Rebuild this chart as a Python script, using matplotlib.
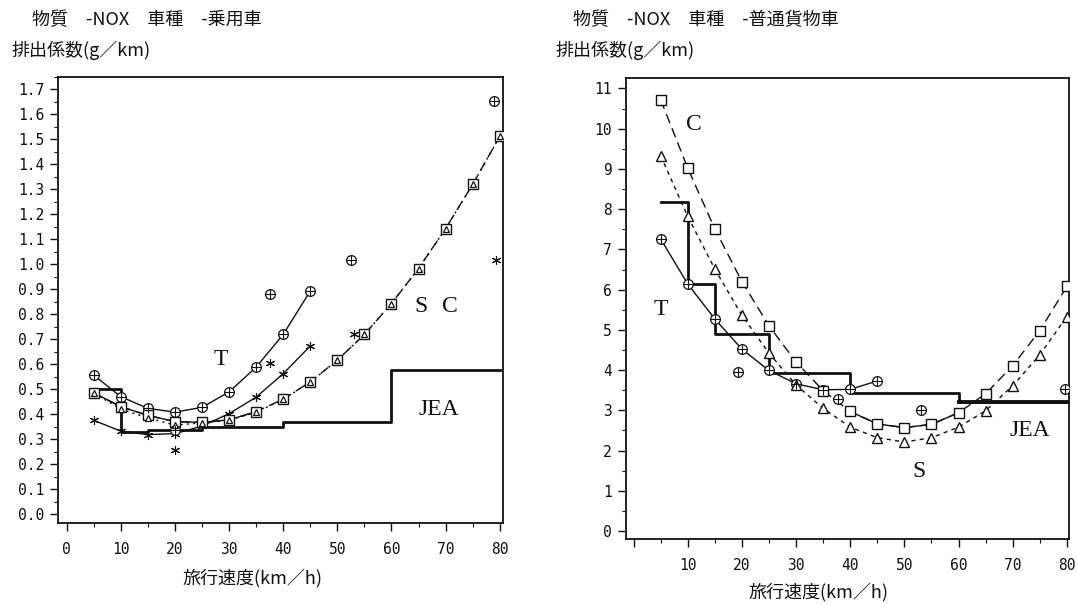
"""
NOx emission factor vs. travel speed: passenger car (left) and truck (right).
"""

import matplotlib
matplotlib.use("Agg")
import matplotlib.pyplot as plt
import matplotlib.ticker as mticker

CJK = ["Noto Sans CJK JP", "DejaVu Sans"]
TICK_FONT = "DejaVu Sans Mono"
LABEL_FONT = "Liberation Serif"
INK = "#111111"

# ---- passenger car (乗用車) ----
car_speed = [5, 10, 15, 20, 25, 30, 35, 40, 45]
car_T = [0.556, 0.470, 0.423, 0.408, 0.427, 0.489, 0.588, 0.719, 0.893]
car_star = [0.375, 0.332, 0.318, 0.322, 0.352, 0.402, 0.468, 0.562, 0.673]
car_speed_sc = [5, 10, 15, 20, 25, 30, 35, 40, 45, 50, 55, 60, 65, 70, 75, 80]
car_C = [0.485, 0.430, 0.395, 0.370, 0.367, 0.377, 0.410, 0.460,
         0.529, 0.616, 0.719, 0.843, 0.983, 1.143, 1.320, 1.512]
car_S = [0.485, 0.420, 0.385, 0.356, 0.365, 0.376, 0.407, 0.459,
         0.529, 0.616, 0.719, 0.843, 0.983, 1.143, 1.320, 1.512]
car_obs_x = [20, 37.5, 52.6, 79.0]
car_obs_y = [0.336, 0.880, 1.016, 1.652]
car_obs_star_x = [20, 37.6, 53.1, 79.4]
car_obs_star_y = [0.258, 0.603, 0.719, 1.016]
car_jea_edges = [5, 10, 15, 25, 40, 60, 80]
car_jea = [0.500, 0.330, 0.338, 0.348, 0.370, 0.575]
car_yticks = [i / 10 for i in range(18)]

# ---- ordinary truck (普通貨物車) ----
truck_speed = [5, 10, 15, 20, 25, 30, 35, 40, 45]
truck_T = [7.26, 6.14, 5.27, 4.52, 3.99, 3.66, 3.51, 3.52, 3.73]
truck_speed_sc = [5, 10, 15, 20, 25, 30, 35, 40, 45, 50, 55, 60, 65, 70, 75, 80]
truck_C = [10.72, 9.02, 7.51, 6.20, 5.10, 4.20, 3.49, 2.97,
           2.66, 2.57, 2.65, 2.94, 3.41, 4.11, 4.98, 6.08]
truck_S = [9.33, 7.82, 6.51, 5.36, 4.42, 3.63, 3.05, 2.58,
           2.32, 2.21, 2.32, 2.58, 2.99, 3.61, 4.38, 5.33]
truck_obs_x = [19.3, 37.8, 53.0, 79.6]
truck_obs_y = [3.96, 3.28, 3.01, 3.52]
truck_jea_edges = [5, 10, 15, 25, 40, 60, 80]
truck_jea = [8.17, 6.13, 4.89, 3.92, 3.44, 3.20]
truck_yticks = list(range(12))

x_ticks = [0, 10, 20, 30, 40, 50, 60, 70, 80]

STAR = (6, 2, 0)


def oplus(ax, x, y, ms=7):
    ax.plot(x, y, "o", ms=ms, mfc="white", mec=INK, mew=0.9, ls="none", zorder=5)
    ax.plot(x, y, "+", ms=ms, color=INK, mew=0.8, ls="none", zorder=6)


def style_axes(ax, xlim, ylim, yminor, yfmt, xlabels):
    ax.set_xlim(*xlim)
    ax.set_ylim(*ylim)
    ax.set_xticks(x_ticks)
    ax.set_xticklabels(xlabels)
    ax.xaxis.set_minor_locator(mticker.MultipleLocator(5))
    ax.yaxis.set_minor_locator(mticker.MultipleLocator(yminor))
    ax.yaxis.set_major_formatter(mticker.FuncFormatter(yfmt))
    ax.tick_params(which="major", direction="out", length=6, width=1.0, color=INK)
    ax.tick_params(which="minor", direction="out", length=3, width=0.8, color=INK)
    ax.tick_params(axis="x", which="major", pad=8)
    ax.tick_params(axis="y", which="major", pad=4)
    ax.tick_params(top=False, right=False, which="both")
    for lab in ax.get_xticklabels() + ax.get_yticklabels():
        lab.set_fontfamily(TICK_FONT)
        lab.set_fontsize(10.5)
        lab.set_color(INK)
    for sp in ax.spines.values():
        sp.set_linewidth(1.3)
        sp.set_color(INK)


def jea_step(ax, edges, vals, lw=2.0):
    ax.plot(edges, vals + [vals[-1]], drawstyle="steps-post", color=INK, lw=lw, zorder=3)


fig = plt.figure(figsize=(10.78, 6.04), dpi=100)
fig.patch.set_facecolor("white")

# ---------------- left panel ----------------
ax1 = fig.add_axes([0.0538, 0.1341, 0.4128, 0.7384])
jea_step(ax1, car_jea_edges, car_jea)
ax1.plot(car_speed, car_T, "-", color=INK, lw=1.0)
oplus(ax1, car_speed, car_T)
ax1.plot(car_speed, car_star, "-", color=INK, lw=1.0,
         marker=STAR, ms=6.5, mew=0.8)
ax1.plot(car_speed_sc, car_C, color=INK, lw=1.0, dashes=(7, 4))
ax1.plot(car_speed_sc, car_S, color=INK, lw=1.0, dashes=(1.5, 3))
ax1.plot(car_speed_sc[:7], car_C[:7], "-", color=INK, lw=1.0)
ax1.plot(car_speed_sc, car_C, "s", ms=7.5, mfc="white", mec=INK, mew=1.0, zorder=5)
ax1.plot(car_speed_sc, car_S, "^", ms=4.5, mfc="white", mec=INK, mew=0.9, zorder=6)
oplus(ax1, car_obs_x, car_obs_y)
ax1.plot(car_obs_star_x, car_obs_star_y, ls="none", color=INK,
         marker=STAR, ms=6.5, mew=0.8)

for txt, x, y in [("T", 28.5, 0.62), ("S", 65.4, 0.83), ("C", 70.7, 0.83), ("JEA", 68.8, 0.42)]:
    ax1.text(x, y, txt, fontsize=17, family=LABEL_FONT, ha="center", va="center",
             color=INK)

style_axes(ax1, (-1.6, 80.6), (-0.036, 1.75), 0.05,
           lambda v, _: f"{v:.1f}", [str(t) for t in x_ticks])
ax1.set_yticks(car_yticks)

# ---------------- right panel ----------------
ax2 = fig.add_axes([0.5807, 0.1076, 0.4110, 0.7632])
jea_step(ax2, truck_jea_edges, truck_jea)
ax2.plot(truck_jea_edges[-2:], [truck_jea[-1]] * 2, color=INK, lw=2.8, zorder=3)
ax2.plot(truck_speed, truck_T, "-", color=INK, lw=1.0)
oplus(ax2, truck_speed, truck_T)
ax2.plot(truck_speed_sc, truck_C, color=INK, lw=1.0, dashes=(7, 4))
ax2.plot(truck_speed_sc[7:12], truck_C[7:12], "-", color=INK, lw=1.0)
ax2.plot(truck_speed_sc, truck_C, "s", ms=7.5, mfc="white", mec=INK, mew=1.0, zorder=5)
ax2.plot(truck_speed_sc, truck_S, color=INK, lw=1.0, dashes=(3, 3))
ax2.plot(truck_speed_sc, truck_S, "^", ms=6.5, mfc="white", mec=INK, mew=1.0, zorder=5)
oplus(ax2, truck_obs_x, truck_obs_y)

for txt, x, y in [("C", 11.2, 10.1), ("T", 5.1, 5.5), ("S", 52.7, 1.48), ("JEA", 73.2, 2.51)]:
    ax2.text(x, y, txt, fontsize=17, family=LABEL_FONT, ha="center", va="center",
             color=INK)

style_axes(ax2, (-1.4, 80.4), (-0.2, 11.26), 0.5,
           lambda v, _: f"{v:.0f}", [""] + [str(t) for t in x_ticks[1:]])
ax2.set_yticks(truck_yticks)

# ---------------- titles / labels ----------------
fig.text(0.030, 0.966, "物質\u3000-NOX\u3000車種\u3000-乗用車", family=CJK, fontsize=13,
         va="center", ha="left", color=INK)
fig.text(0.011, 0.916, "排出係数(g／km)", family=CJK, fontsize=13,
         va="center", ha="left", color=INK)
fig.text(0.532, 0.966, "物質\u3000-NOX\u3000車種\u3000-普通貨物車", family=CJK, fontsize=13,
         va="center", ha="left", color=INK)
fig.text(0.515, 0.916, "排出係数(g／km)", family=CJK, fontsize=13,
         va="center", ha="left", color=INK)
fig.text(0.234, 0.043, "旅行速度(km／h)", family=CJK, fontsize=13,
         va="center", ha="center", color=INK)
fig.text(0.759, 0.020, "旅行速度(km／h)", family=CJK, fontsize=13,
         va="center", ha="center", color=INK)

fig.savefig("out.png", dpi=100, facecolor="white")
